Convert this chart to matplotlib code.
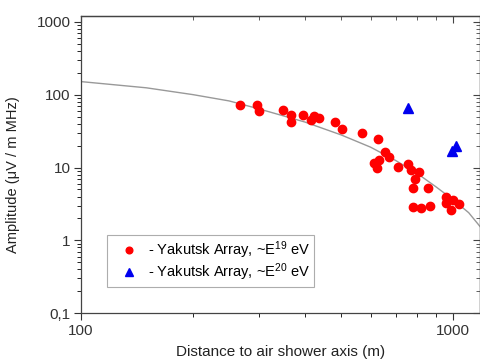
import matplotlib
matplotlib.use('Agg')
import matplotlib.pyplot as plt
import numpy as np

plt.rcParams['font.family'] = ['Liberation Sans', 'DejaVu Sans']
plt.rcParams['mathtext.default'] = 'regular'

# Yakutsk ~E^19 eV events (distance m, amplitude uV/m MHz)
e19_dist = [267, 298, 300, 350, 367, 367, 396, 414, 424, 435, 480, 503, 568,
            627, 611, 630, 623, 654, 673, 710, 754, 770, 810, 790, 782, 858,
            782, 818, 864, 958, 1000, 1033, 958, 985]
e19_amp = [71, 71, 59, 61, 53, 42, 53, 45, 51, 48, 42, 34, 30,
           25, 11.4, 12.5, 9.9, 16.3, 13.9, 10.1, 11.2, 9.1, 8.7, 7.0, 5.3, 5.3,
           2.87, 2.8, 3.0, 3.9, 3.6, 3.2, 3.3, 2.6]

# Yakutsk ~E^20 eV events
e20_dist = [754, 1019, 994]
e20_amp = [66, 20, 16.8]

# approximation curve
curve_dist = [100, 150, 200, 250, 300, 400, 500, 600, 700, 800, 900, 1000, 1100, 1180]
curve_amp = [151, 124, 100, 82, 64, 42, 28, 19, 12.5, 8.3, 5.4, 3.6, 2.4, 1.55]

yticks = [0.1, 1, 10, 100, 1000]
ylabels = ['0,1', '1', '10', '100', '1000']
xticks = [100, 1000]
xlabels = ['100', '1000']

fig = plt.figure(figsize=(4.81, 3.63), dpi=100)
ax = fig.add_axes([0.168, 0.137, 0.83, 0.819])

ax.plot(curve_dist, curve_amp, color='#999999', lw=1.0, zorder=1)
ax.plot(e19_dist, e19_amp, 'o', color='#ff0000', ms=6.0, mec='#ff0000',
        label='- Yakutsk Array, ~E$^{19}$ eV', zorder=3)
ax.plot(e20_dist, e20_amp, '^', color='#0000ee', ms=6.5, mec='#0000ee',
        label='- Yakutsk Array, ~E$^{20}$ eV', zorder=3)

ax.set_xscale('log')
ax.set_yscale('log')
ax.set_xlim(100, 1180)
ax.set_ylim(0.1, 1200)
ax.set_xticks(xticks)
ax.set_xticklabels(xlabels)
ax.set_yticks(yticks)
ax.set_yticklabels(ylabels)
ax.tick_params(which='major', direction='out', length=5, width=0.8, labelsize=11,
               colors='#333333', pad=2.5)
ax.tick_params(which='minor', direction='out', length=3, width=0.6, labelleft=False,
               labelbottom=False)
for s in ax.spines.values():
    s.set_color('#444444')
    s.set_linewidth(0.9)

# mirrored ticks pointing inside on top and right
sx = ax.secondary_xaxis('top')
sx.tick_params(which='both', direction='in', labeltop=False, colors='#444444')
sx.tick_params(which='major', length=5)
sx.tick_params(which='minor', length=3)
sy = ax.secondary_yaxis('right')
sy.tick_params(which='both', direction='in', labelright=False, colors='#444444')
sy.tick_params(which='major', length=5)
sy.tick_params(which='minor', length=3)
for sa in (sx, sy):
    for s in sa.spines.values():
        s.set_color('#444444')
        s.set_linewidth(0.9)

ax.set_xlabel('Distance to air shower axis (m)', fontsize=11, color='#222222', labelpad=5)
ax.set_ylabel('Amplitude (μV / m MHz)', fontsize=10.5, color='#222222')
ax.yaxis.set_label_coords(-0.152, 0.467)

leg = ax.legend(loc='lower left', bbox_to_anchor=(0.065, 0.088), fontsize=10.5,
                frameon=True, fancybox=False, edgecolor='#999999', handlelength=2.4,
                handletextpad=0.1, borderpad=0.3, labelspacing=0.0,
                markerscale=0.8, borderaxespad=0)
leg.get_frame().set_linewidth(0.8)

fig.savefig('out.png', dpi=100, facecolor='white')
